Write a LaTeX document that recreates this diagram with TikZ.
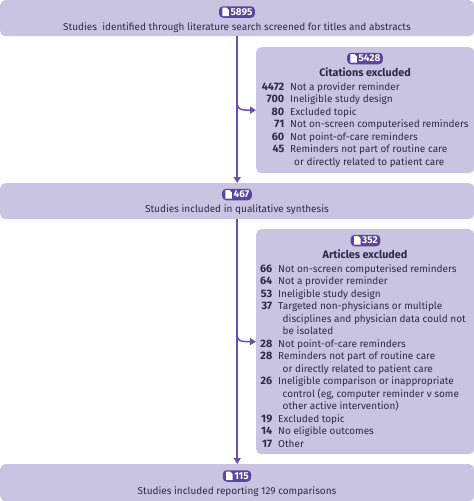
\documentclass[tikz,border=0pt]{standalone}
\usepackage{fontspec}
\setmainfont{Fira Sans}
\definecolor{boxfill}{HTML}{C9C4E1}
\definecolor{arrowcol}{HTML}{6852A4}
\definecolor{badgecol}{HTML}{5A4699}
\definecolor{inkcol}{HTML}{2E2A45}
\usetikzlibrary{arrows.meta}
\tikzset{
  flowbox/.style={fill=boxfill,rounded corners=5pt,anchor=north west,inner sep=0pt},
  pill/.style={fill=badgecol,rounded corners=4pt,anchor=center,inner ysep=0pt,inner xsep=2.5pt,minimum height=11.5pt,text=white,font=\fontsize{10}{11}\selectfont\bfseries},
  bodytext/.style={text=inkcol,font=\fontsize{10}{12}\selectfont,inner sep=0pt},
  centred/.style={bodytext,anchor=base},
  num/.style={bodytext,anchor=base east,font=\fontsize{10.8}{12}\selectfont\bfseries},
  lab/.style={bodytext,anchor=base west},
  head/.style={bodytext,anchor=base,font=\fontsize{10.8}{12}\selectfont\bfseries},
  flow/.style={draw=arrowcol,line width=1.5pt},
  tip/.style={-{Triangle[length=6pt,width=7pt]}}
}
\newcommand{\docicon}[1]{%
  \fill[white] ([xshift=3.5pt,yshift=-1.6pt]#1.north west) -- ++(4.2pt,0) -- ++(2.3pt,-2.3pt) -- ++(0,-6.2pt) -- ++(-6.5pt,0) -- cycle;}
\begin{document}
\begin{tikzpicture}[x=1pt,y=-1pt]
\useasboundingbox (0,0) rectangle (474,501);
% boxes
\node[flowbox,minimum width=474pt,minimum height=36pt] (top) at (0,0) {};
\node[flowbox,minimum width=218pt,minimum height=126pt] (exA) at (256,47) {};
\node[flowbox,minimum width=474pt,minimum height=36pt] (mid) at (0,183) {};
\node[flowbox,minimum width=218pt,minimum height=225pt] (exB) at (256,229) {};
\node[flowbox,minimum width=474pt,minimum height=37pt] (end) at (0,464) {};
% connectors
\coordinate (branchA) at (237,103);
\coordinate (branchB) at (237,335);
\draw[flow,tip] (top) -- (mid);
\draw[flow,tip] (mid) -- (end);
\draw[flow,tip] (branchA) .. controls (237.5,108) and (240,110) .. (245,110) -- (exA.west);
\draw[flow,tip] (branchB) .. controls (237.5,340) and (240,341.5) .. (245,341.5) -- (exB.west);
% badges
\node[pill] (b1) at (237,12) {\hspace*{9pt}5895};
\node[pill] (b2) at (365,58.5) {\hspace*{9pt}5428};
\node[pill] (b3) at (237,194.5) {\hspace*{9pt}467};
\node[pill] (b4) at (365.5,240.5) {\hspace*{9pt}352};
\node[pill] (b5) at (237,476) {\hspace*{9pt}115};
\docicon{b1}\docicon{b2}\docicon{b3}\docicon{b4}\docicon{b5}
% centred text
\node[centred] (t1) at (237,30) {Studies\ \ identified through literature search screened for titles and abstracts};
\node[centred] (t3) at (237,212) {Studies included in qualitative synthesis};
\node[centred] (t5) at (237,494) {Studies included reporting 129 comparisons};
\node[head] (h2) at (365,76) {Citations excluded};
\node[head] (h4) at (365,258.5) {Articles excluded};
% first exclusion list
\node[num] (a1n) at (284.5,90) {4472}; \node[lab] (a1) at (290,90) {Not a provider reminder};
\node[num] (a2n) at (284.5,102.5) {700}; \node[lab] (a2) at (290,102.5) {Ineligible study design};
\node[num] (a3n) at (284.5,115) {80}; \node[lab] (a3) at (290,115) {Excluded topic};
\node[num] (a4n) at (284.5,127.5) {71}; \node[lab] (a4) at (290,127.5) {Not on-screen computerised reminders};
\node[num] (a5n) at (284.5,140) {60}; \node[lab] (a5) at (290,140) {Not point-of-care reminders};
\node[num] (a6n) at (284.5,152.5) {45}; \node[lab] (a6) at (290,152.5) {Reminders not part of routine care};
\node[lab] (a7) at (294,165) {or directly related to patient care};
% second exclusion list
\node[num] (c1n) at (272.5,272) {66}; \node[lab] (c1) at (278,272) {Not on-screen computerised reminders};
\node[num] (c2n) at (272.5,284.5) {64}; \node[lab] (c2) at (278,284.5) {Not a provider reminder};
\node[num] (c3n) at (272.5,297) {53}; \node[lab] (c3) at (278,297) {Ineligible study design};
\node[num] (c4n) at (272.5,309.5) {37}; \node[lab] (c4) at (278,309.5) {Targeted non-physicians or multiple};
\node[lab] (c5) at (282.5,322) {disciplines and physician data could not};
\node[lab] (c6) at (282.5,334.5) {be isolated};
\node[num] (c7n) at (272.5,347) {28}; \node[lab] (c7) at (278,347) {Not point-of-care reminders};
\node[num] (c8n) at (272.5,359.5) {28}; \node[lab] (c8) at (278,359.5) {Reminders not part of routine care};
\node[lab] (c9) at (282.5,372) {or directly related to patient care};
\node[num] (c10n) at (272.5,384.5) {26}; \node[lab] (c10) at (278,384.5) {Ineligible comparison or inappropriate};
\node[lab] (c11) at (282.5,397) {control (eg, computer reminder v some};
\node[lab] (c12) at (282.5,409.5) {other active intervention)};
\node[num] (c13n) at (272.5,422) {19}; \node[lab] (c13) at (278,422) {Excluded topic};
\node[num] (c14n) at (272.5,434.5) {14}; \node[lab] (c14) at (278,434.5) {No eligible outcomes};
\node[num] (c15n) at (272.5,447) {17}; \node[lab] (c15) at (278,447) {Other};
\end{tikzpicture}
\end{document}
